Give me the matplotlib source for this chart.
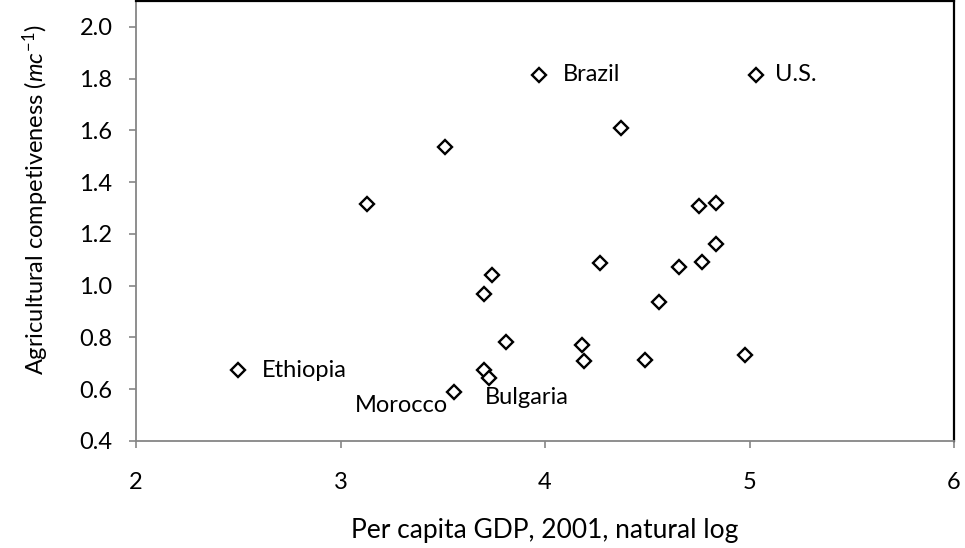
import matplotlib.pyplot as plt

plt.rcParams['font.family'] = ['Lato', 'DejaVu Sans']
plt.rcParams['mathtext.fontset'] = 'custom'
plt.rcParams['mathtext.rm'] = 'Lato'
plt.rcParams['mathtext.it'] = 'Lato:italic'

# ln per capita GDP (2001) vs agricultural competitiveness
gdp_log = [2.50, 3.555, 3.70, 3.725, 4.19, 4.18, 3.81, 3.70, 3.74, 4.27,
           3.13, 3.51, 4.37, 3.97, 5.03, 4.753, 4.836, 4.836, 4.77, 4.655,
           4.557, 4.49, 4.98]
competitiveness = [0.674, 0.591, 0.674, 0.643, 0.709, 0.771, 0.783, 0.968, 1.042, 1.088,
                   1.316, 1.538, 1.610, 1.815, 1.815, 1.308, 1.320, 1.161, 1.092, 1.074,
                   0.937, 0.713, 0.732]

# labelled countries
countries = ['Ethiopia', 'Morocco', 'Bulgaria', 'Brazil', 'U.S.']
country_x = [2.50, 3.555, 3.725, 3.97, 5.03]
country_y = [0.674, 0.591, 0.643, 1.815, 1.815]

fig = plt.figure(figsize=(9.65, 5.48), dpi=100)
ax = fig.add_axes([0.141, 0.1953, 0.8476, 0.8027])

ax.plot(gdp_log, competitiveness, linestyle='none', marker='D', markersize=7,
        markerfacecolor='white', markeredgecolor='black', markeredgewidth=1.7)

label_offsets = {
    'Ethiopia': ((24, 0), 'left', 'center'),
    'Morocco': ((-6, -14), 'right', 'center'),
    'Bulgaria': ((-4, -19), 'left', 'center'),
    'Brazil': ((24, 0), 'left', 'center'),
    'U.S.': ((19, 0), 'left', 'center'),
}
for name, x, y in zip(countries, country_x, country_y):
    (dx, dy), ha, va = label_offsets[name]
    ax.annotate(name, (x, y), xytext=(dx, dy), textcoords='offset pixels',
                ha=ha, va=va, fontsize=17)

ax.set_xlim(2, 6)
ax.set_ylim(0.4, 2.1)
ax.set_xticks([2, 3, 4, 5, 6])
ax.set_yticks([0.4, 0.6, 0.8, 1.0, 1.2, 1.4, 1.6, 1.8, 2.0])
ax.set_yticklabels([f'{v:.1f}' for v in ax.get_yticks()])

gray = '#868686'
for side in ['left', 'bottom']:
    ax.spines[side].set_color(gray)
    ax.spines[side].set_linewidth(1.3)
for side in ['top', 'right']:
    ax.spines[side].set_color('black')
    ax.spines[side].set_linewidth(1.6)

ax.tick_params(axis='both', direction='out', length=5, width=1.2, color=gray,
               labelsize=17, labelcolor='black')
ax.tick_params(axis='x', pad=17)
ax.tick_params(axis='y', pad=12)

ax.set_xlabel('Per capita GDP, 2001, natural log', fontsize=19, labelpad=18)
ax.set_ylabel(r'Agricultural competiveness ($\mathit{mc}^{\mathrm{-1}}$)', fontsize=17)
ax.yaxis.set_label_coords(-0.104, 0.548)

fig.savefig('out.png', dpi=100)
